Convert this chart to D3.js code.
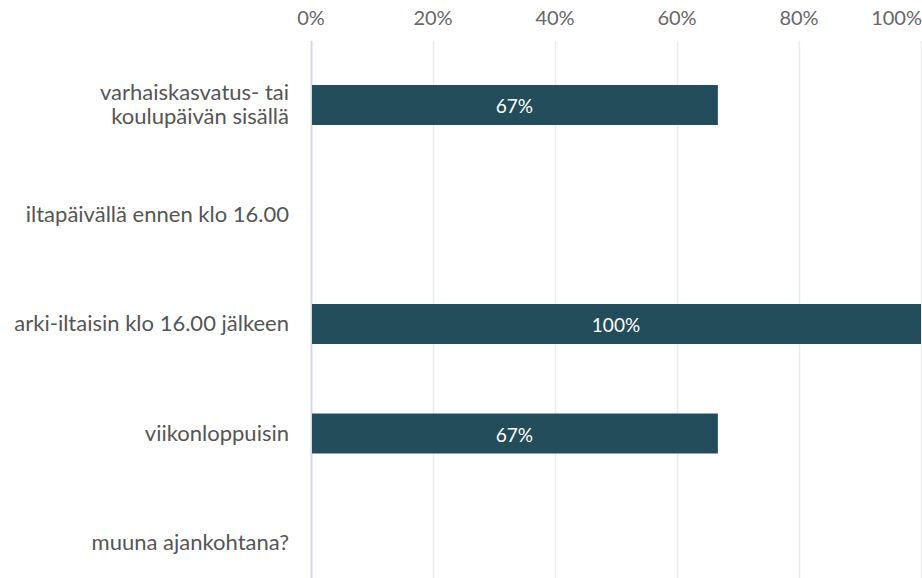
<!DOCTYPE html>
<html>
<head>
<meta charset="utf-8">
<script src="https://cdn.jsdelivr.net/npm/d3@7"></script>
<style>
  body { margin: 0; background: #fff; }
  svg { display: block; font-family: Lato, "Open Sans", sans-serif; }
</style>
</head>
<body>
<div id="chart"></div>
<script>
var categories = [
    ["varhaiskasvatus- tai", "koulupäivän sisällä"],
    ["iltapäivällä ennen klo 16.00"],
    ["arki-iltaisin klo 16.00 jälkeen"],
    ["viikonloppuisin"],
    ["muuna ajankohtana?"]
];
var values = [66.7, 0, 100, 66.7, 0];
var tickValues = [0, 20, 40, 60, 80, 100];

var width = 922, height = 578;

var svg = d3.select("#chart")
    .append("svg")
    .attr("width", width)
    .attr("height", height);

var x = d3.scaleLinear()
    .domain([0, 100])
    .range([311, 921]);

var y = d3.scaleBand()
    .domain(d3.range(categories.length))
    .range([50.25, 597.75])
    .paddingInner(0.635)
    .paddingOuter(0.3175);

// gridlines
svg.append("g")
    .selectAll("line")
    .data(tickValues)
    .enter()
    .append("line")
    .attr("x1", function (d) { return x(d) + 0.5 })
    .attr("x2", function (d) { return x(d) + 0.5 })
    .attr("y1", 41)
    .attr("y2", height)
    .attr("stroke", function (d) { return d === 0 ? "#d5d9e6" : "#ebebeb" })
    .attr("stroke-width", function (d) { return d === 0 ? 2 : 1.5 });

// top axis labels
svg.append("g")
    .selectAll("text")
    .data(tickValues)
    .enter()
    .append("text")
    .attr("x", function (d) { return d === 100 ? 922 : x(d) })
    .attr("y", 25)
    .attr("text-anchor", function (d) { return d === 100 ? "end" : "middle" })
    .attr("fill", "#666")
    .style("font-size", "20px")
    .text(function (d) { return d + "%" });

// bars
svg.append("g")
    .selectAll("rect")
    .data(values)
    .enter()
    .append("rect")
    .attr("x", x(0) + 1)
    .attr("y", function (d, i) { return y(i) })
    .attr("width", function (d) { return Math.max(0, x(d) - x(0) - 1) })
    .attr("height", y.bandwidth())
    .attr("fill", "#234d5a");

// bar value labels
svg.append("g")
    .selectAll("text")
    .data(values)
    .enter()
    .append("text")
    .attr("x", function (d) { return (x(0) + x(d)) / 2 })
    .attr("y", function (d, i) { return y(i) + y.bandwidth() / 2 + 8 })
    .attr("text-anchor", "middle")
    .attr("fill", "#fff")
    .style("font-size", "19px")
    .text(function (d) { return d > 0 ? Math.round(d) + "%" : "" });

// category labels
var catG = svg.append("g")
    .selectAll("text")
    .data(categories)
    .enter()
    .append("text")
    .attr("text-anchor", "end")
    .attr("fill", "#555")
    .style("font-size", "22px")
    .attr("y", function (d, i) { return y(i) + y.bandwidth() / 2 + 7 - (d.length - 1) * 12 });

catG.selectAll("tspan")
    .data(function (d) { return d })
    .enter()
    .append("tspan")
    .attr("x", 289)
    .attr("dy", function (d, i) { return i === 0 ? 0 : 24 })
    .text(function (d) { return d });
</script>
</body>
</html>
